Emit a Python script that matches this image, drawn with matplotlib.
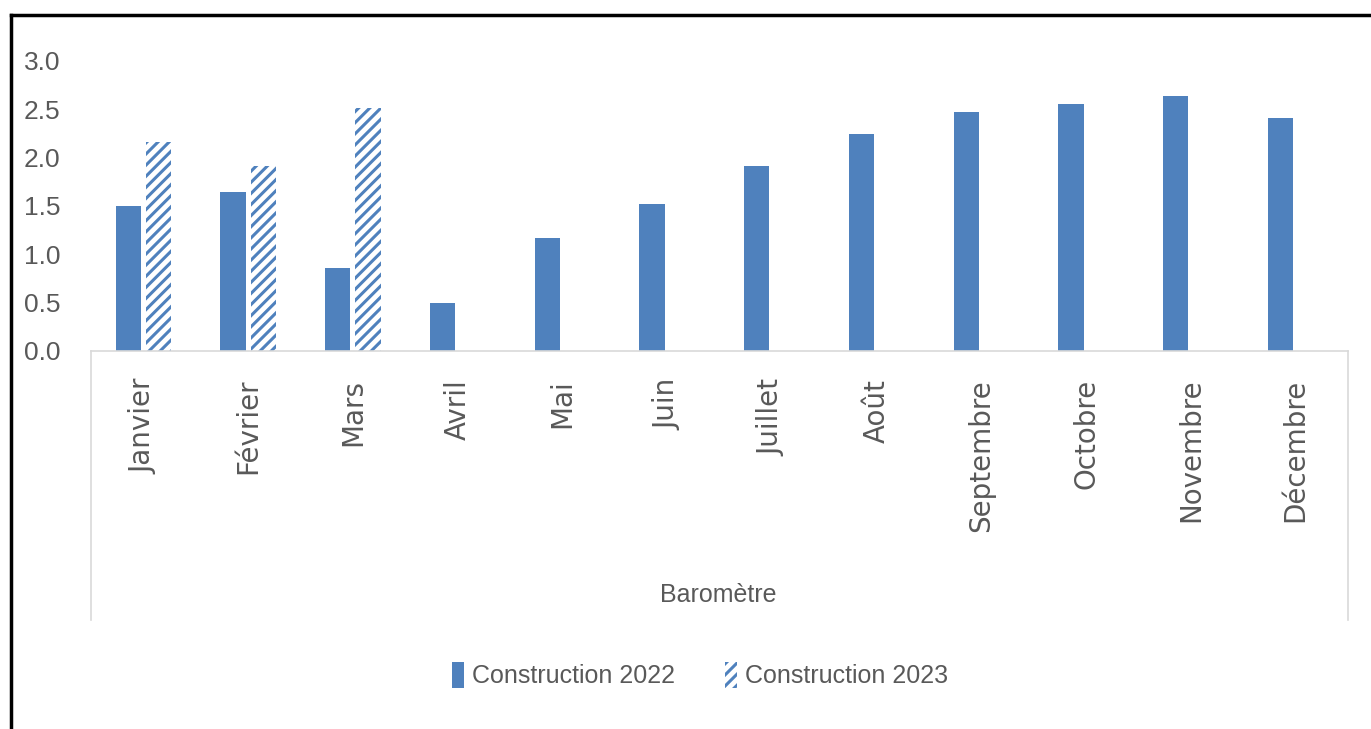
import matplotlib
matplotlib.use('Agg')
import matplotlib.pyplot as plt
import numpy as np
from matplotlib.patches import Patch
from matplotlib.lines import Line2D

mois = ['Janvier', 'Février', 'Mars', 'Avril', 'Mai', 'Juin', 'Juillet',
        'Août', 'Septembre', 'Octobre', 'Novembre', 'Décembre']
construction_2022 = [1.50, 1.64, 0.86, 0.50, 1.17, 1.52, 1.91, 2.24, 2.47, 2.55, 2.64, 2.41]
construction_2023 = [2.16, 1.91, 2.51, np.nan, np.nan, np.nan, np.nan, np.nan,
                     np.nan, np.nan, np.nan, np.nan]
groupe = 'Baromètre'
y_ticks = [0.0, 0.5, 1.0, 1.5, 2.0, 2.5, 3.0]

bleu = '#4F81BD'
gris = '#595959'
narrow = ['Liberation Sans', 'DejaVu Sans']

plt.rcParams['hatch.linewidth'] = 2.2
plt.rcParams['hatch.color'] = bleu

fig = plt.figure(figsize=(13.71, 7.29), dpi=100)
ax = fig.add_axes([91 / 1371, 1 - 351 / 729, (1348 - 91) / 1371, (351 - 61) / 729])

x = np.arange(len(mois))
w = 0.24
ax.bar(x - 0.145, construction_2022, w, color=bleu, label='Construction 2022')
ax.bar(x + 0.145, construction_2023, w, color='white', edgecolor=bleu, linewidth=0,
       hatch='///', label='Construction 2023')

ax.set_xlim(-0.5, len(mois) - 0.5)
ax.set_ylim(0, 3.0)
ax.set_yticks(y_ticks)
ax.set_yticklabels([f'{v:.1f}' for v in y_ticks], family=narrow, fontsize=19, color=gris)
ax.set_xticks(x)
ax.set_xticklabels(mois, rotation=90, fontsize=20, color=gris, va='top')
ax.tick_params(axis='both', length=0)
ax.tick_params(axis='y', pad=22)
ax.tick_params(axis='x', pad=20)
for s in ['top', 'right', 'left']:
    ax.spines[s].set_visible(False)
ax.spines['bottom'].set_color('#d9d9d9')
ax.spines['bottom'].set_linewidth(1.2)

# cadre de la catégorie
y0 = 1 - 351 / 729
y1 = 1 - 620 / 729
for xp in [91 / 1371, 1348 / 1371]:
    fig.add_artist(Line2D([xp, xp], [y0, y1], color='#d9d9d9', lw=1.2))
fig.text(718 / 1371, 1 - 595 / 729, groupe, ha='center', va='center',
         family=narrow, fontsize=18, color=gris)

# bordure noire
fig.add_artist(Line2D([11 / 1371, 11 / 1371], [0, 1 - 15 / 729], color='black', lw=2.5))
fig.add_artist(Line2D([11 / 1371, 1], [1 - 15 / 729, 1 - 15 / 729], color='black', lw=2.5))

handles = [Patch(facecolor=bleu, label='Construction 2022'),
           Patch(facecolor='white', edgecolor=bleu, linewidth=0, hatch='///',
                 label='Construction 2023')]
fig.legend(handles=handles, loc='center', bbox_to_anchor=(700 / 1371, 1 - 675 / 729),
           ncol=2, frameon=False, prop={'family': narrow, 'size': 18},
           labelcolor=gris, handlelength=0.5, handleheight=1.2, handletextpad=0.3,
           columnspacing=2.0)

fig.savefig('out.png', dpi=100)
